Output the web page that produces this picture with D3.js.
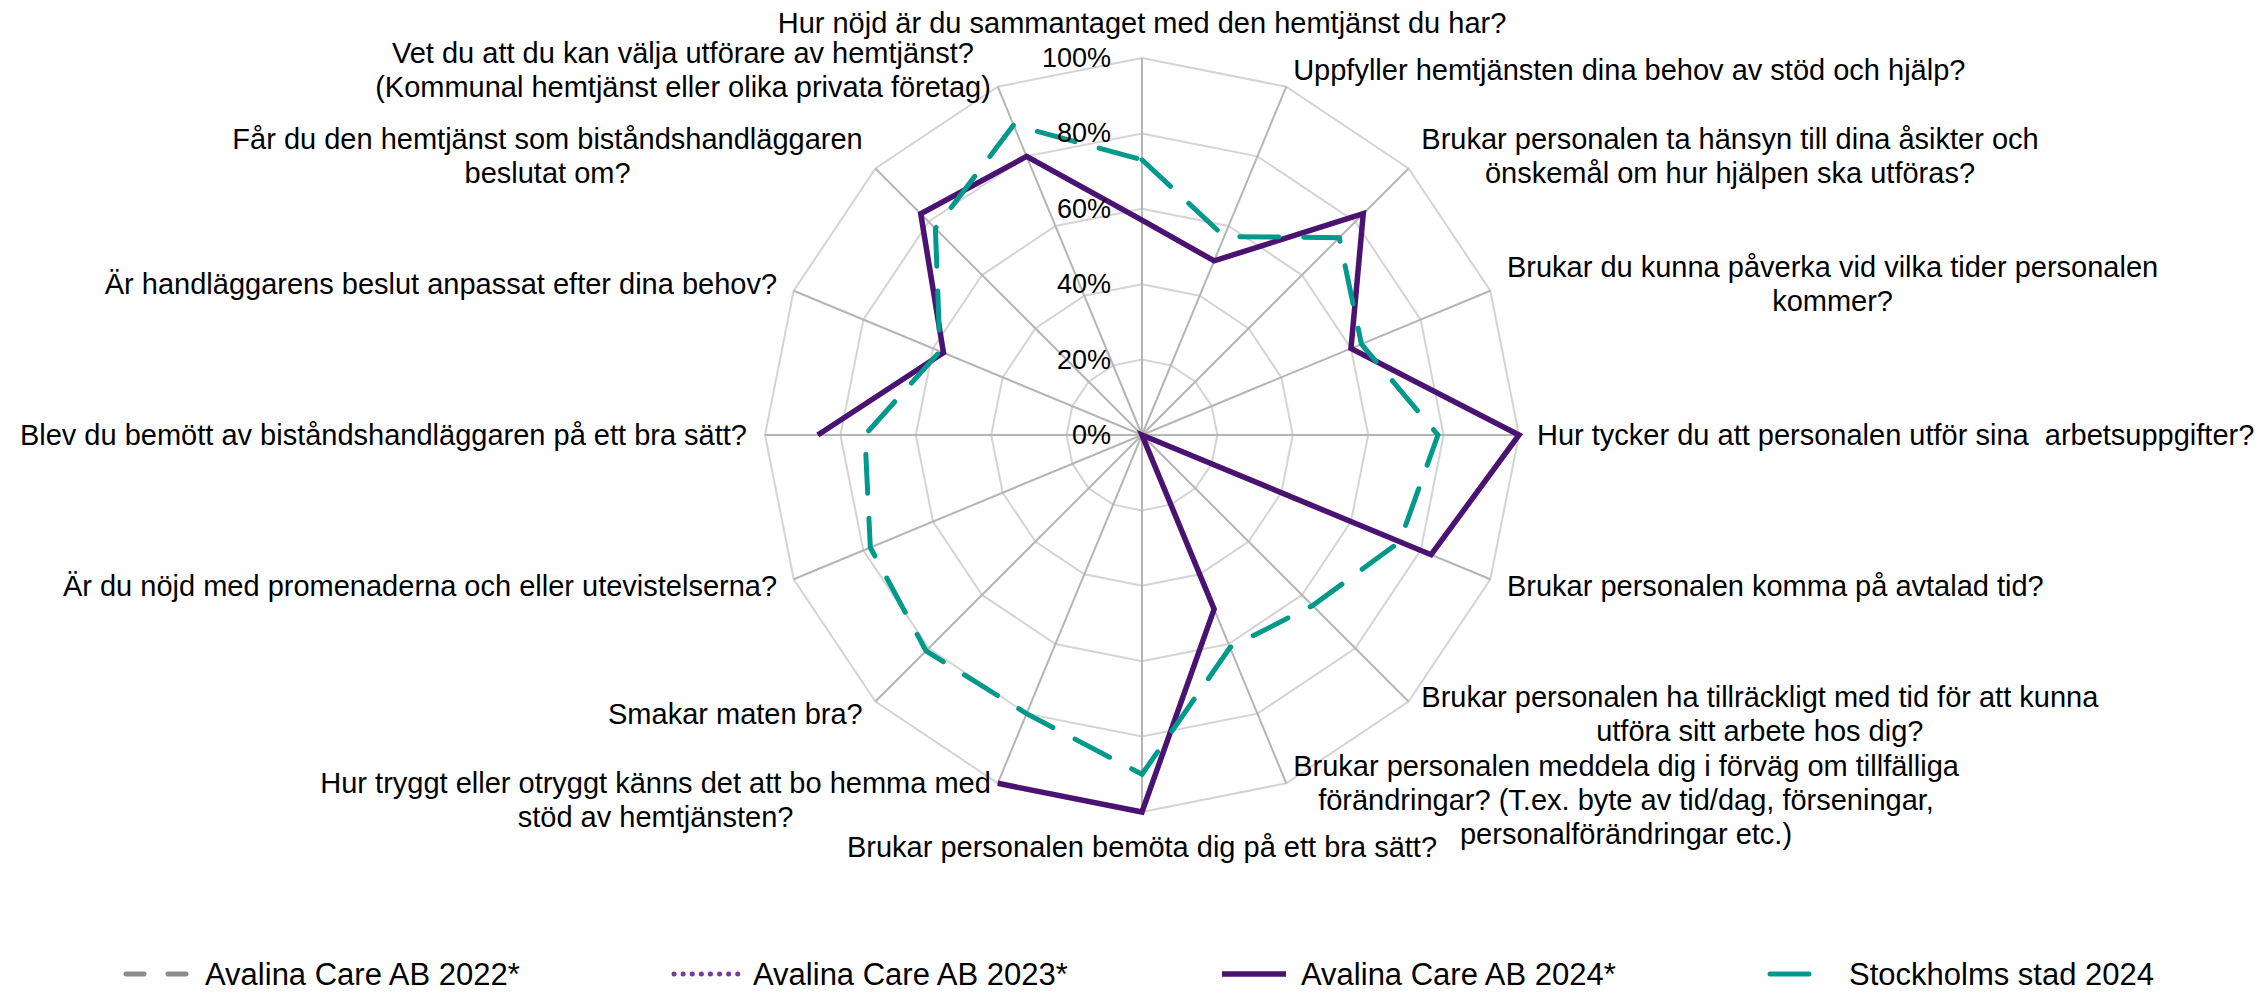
<!DOCTYPE html>
<html>
<head>
<meta charset="utf-8">
<script src="https://cdn.jsdelivr.net/npm/d3@7"></script>
<style>
  body { margin: 0; background: #fff; }
  svg text { font-family: "Liberation Sans", Arial, sans-serif; fill: #000; white-space: pre; }
</style>
</head>
<body>
<svg id="chart" width="2267" height="993"></svg>
<script>
// questions, clockwise from the top
const categories = [
  ["Hur nöjd är du sammantaget med den hemtjänst du har?"],
  ["Uppfyller hemtjänsten dina behov av stöd och hjälp?"],
  ["Brukar personalen ta hänsyn till dina åsikter och", "önskemål om hur hjälpen ska utföras?"],
  ["Brukar du kunna påverka vid vilka tider personalen", "kommer?"],
  ["Hur tycker du att personalen utför sina  arbetsuppgifter?"],
  ["Brukar personalen komma på avtalad tid?"],
  ["Brukar personalen ha tillräckligt med tid för att kunna", "utföra sitt arbete hos dig?"],
  ["Brukar personalen meddela dig i förväg om tillfälliga", "förändringar? (T.ex. byte av tid/dag, förseningar,", "personalförändringar etc.)"],
  ["Brukar personalen bemöta dig på ett bra sätt?"],
  ["Hur tryggt eller otryggt känns det att bo hemma med", "stöd av hemtjänsten?"],
  ["Smakar maten bra?"],
  ["Är du nöjd med promenaderna och eller utevistelserna?"],
  ["Blev du bemött av biståndshandläggaren på ett bra sätt?"],
  ["Är handläggarens beslut anpassat efter dina behov?"],
  ["Får du den hemtjänst som biståndshandläggaren", "beslutat om?"],
  ["Vet du att du kan välja utförare av hemtjänst?", "(Kommunal hemtjänst eller olika privata företag)"]
];

// share of positive answers, null = no value
const avalina2022 = [null, null, null, null, null, null, null, null, null, null, null, null, null, null, null, null];
const avalina2023 = [null, null, null, null, null, null, null, null, null, null, null, null, null, null, null, null];
const avalina2024 = [0.57, 0.50, 0.83, 0.60, 1.00, 0.83, 0.00, 0.50, 1.00, 1.00, null, null, 0.86, 0.57, 0.83, 0.80];
const stockholm2024 = [0.73, 0.57, 0.74, 0.63, 0.785, 0.74, 0.64, 0.61, 0.90, 0.80, 0.81, 0.78, 0.735, 0.58, 0.775, 0.89];

const tickValues = [0, 0.2, 0.4, 0.6, 0.8, 1.0];
const seriesNames = ["Avalina Care AB 2022*", "Avalina Care AB 2023*", "Avalina Care AB 2024*", "Stockholms stad 2024"];

const series = [
  { name: seriesNames[0], values: avalina2022, color: "#8c8c8c", width: 5, dash: "18,24", cap: "round" },
  { name: seriesNames[1], values: avalina2023, color: "#7b3a98", width: 5, dash: "0.1,9", cap: "round" },
  { name: seriesNames[2], values: avalina2024, color: "#4a1271", width: 5.5, dash: null, cap: "butt" },
  { name: seriesNames[3], values: stockholm2024, color: "#00998c", width: 5, dash: "39,25", cap: "round" }
];

const svg = d3.select("#chart");
const cx = 1142, cy = 435, R = 377;
const n = categories.length;

const r = d3.scaleLinear().domain([0, 1]).range([0, R]);
const angle = i => i * 2 * Math.PI / n;

const g = svg.append("g").attr("transform", `translate(${cx},${cy})`);

// rings
const ring = d3.lineRadial().curve(d3.curveLinearClosed);
g.append("g").selectAll("path").data(tickValues.filter(v => v > 0)).enter().append("path")
  .attr("d", v => ring(d3.range(n).map(i => [angle(i), r(v)])))
  .attr("fill", "none")
  .attr("stroke", "#d4d4d4")
  .attr("stroke-width", 2);

// spokes
g.append("g").selectAll("line").data(d3.range(n)).enter().append("line")
  .attr("x1", 0).attr("y1", 0)
  .attr("x2", i => r(1) * Math.sin(angle(i)))
  .attr("y2", i => -r(1) * Math.cos(angle(i)))
  .attr("stroke", "#b5b5b5")
  .attr("stroke-width", 2);

// series lines, closed by repeating the first point
const radial = d3.lineRadial()
  .defined(d => d[1] != null)
  .angle(d => d[0])
  .radius(d => r(d[1]));

series.forEach(s => {
  const pts = s.values.map((v, i) => [angle(i), v]);
  pts.push([2 * Math.PI, s.values[0]]);
  g.append("path")
    .attr("d", radial(pts))
    .attr("fill", "none")
    .attr("stroke", s.color)
    .attr("stroke-width", s.width)
    .attr("stroke-linejoin", "miter")
    .attr("stroke-linecap", s.cap)
    .attr("stroke-dasharray", s.dash);
});

// value axis labels
g.append("g").selectAll("text").data(tickValues).enter().append("text")
  .attr("x", -31)
  .attr("y", v => -r(v))
  .attr("text-anchor", "end")
  .attr("dominant-baseline", "central")
  .style("font-size", "27px")
  .text(d3.format(".0%"));

// category labels
const lineH = 34, gap = 18;
categories.forEach((lines, i) => {
  const a = angle(i);
  const dx = Math.sin(a), dy = -Math.cos(a);
  const qx = (r(1) + gap) * dx, qy = (r(1) + gap) * dy;
  const t = g.append("text")
    .attr("text-anchor", "middle")
    .style("font-size", "29px");
  const spans = lines.map(l => t.append("tspan").attr("dominant-baseline", "central").text(l));
  const w = d3.max(spans, s => s.node().getComputedTextLength());
  const h = lines.length * lineH;
  let x = qx, top;
  if (Math.abs(dx) < 0.01) {
    top = dy < 0 ? qy - h : qy;
  } else {
    x = dx > 0 ? qx + w / 2 : qx - w / 2;
    top = qy - h / 2;
  }
  spans.forEach((s, k) => s.attr("x", x).attr("y", top + lineH * (k + 0.5)));
});

// legend
const legendX0 = 124, legendStep = 548, legendY = 974;
const leg = svg.append("g").selectAll("g").data(series).enter().append("g")
  .attr("transform", (d, i) => `translate(${legendX0 + i * legendStep},${legendY})`);
leg.append("line")
  .attr("x1", 2).attr("x2", 66).attr("y1", 0).attr("y2", 0)
  .attr("stroke", d => d.color)
  .attr("stroke-width", d => d.width)
  .attr("stroke-linecap", d => d.cap)
  .attr("stroke-dasharray", d => d.dash);
leg.append("text")
  .attr("x", 81).attr("y", 0)
  .attr("dominant-baseline", "central")
  .style("font-size", "31px")
  .text(d => d.name);
</script>
</body>
</html>
